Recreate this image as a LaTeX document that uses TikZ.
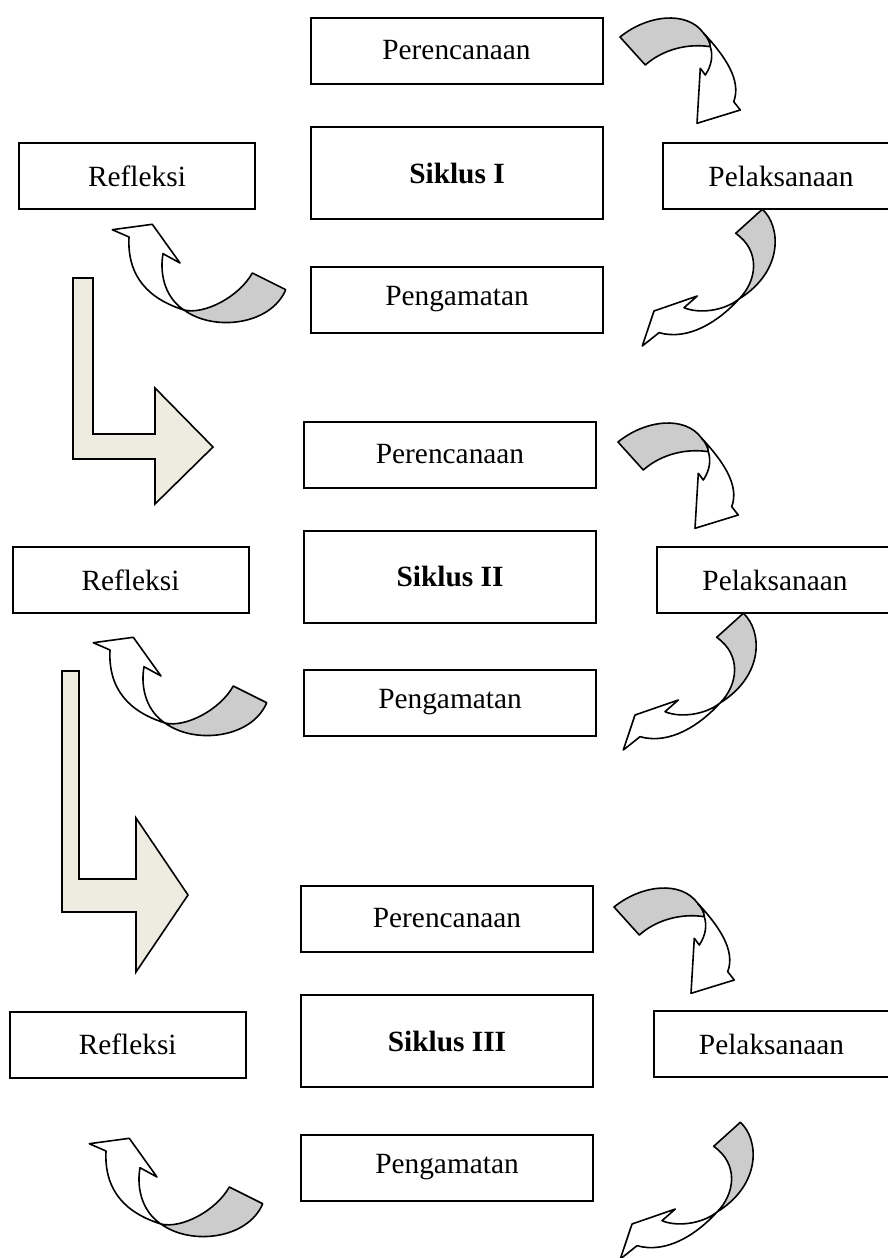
\documentclass[tikz,border=0pt]{standalone}
\usepackage{fontspec}
\setmainfont{Liberation Serif}
\definecolor{ribbon}{HTML}{CCCCCC}
\definecolor{bend}{HTML}{EEECE1}
\tikzset{
  box/.style={draw, line width=2pt, inner sep=0pt, minimum width=292pt,
    minimum height=66pt, font=\fontsize{29.35}{35}\selectfont},
  cyclebox/.style={box, minimum height=92pt, font=\fontsize{29.35}{35}\selectfont\bfseries},
  sidebox/.style={box, minimum width=236pt},
  back/.style={draw, line width=1.6pt, fill=ribbon, line join=round},
  front/.style={draw, line width=1.6pt, fill=white, line join=round},
  turn/.style={draw, line width=1.6pt, fill=bend},
  % Perencanaan -> Pelaksanaan
  pics/toact/.style={code={
    \draw[back] (-2,2) .. controls (25,-20) and (65,-25) .. (81.7,-1.7)
      .. controls (86,3) and (88,7) .. (88.3,11.7)
      .. controls (65,8) and (40,15) .. (23.3,30) -- cycle;
    \draw[front] (81.7,-1.7) .. controls (102,20) and (120,45) .. (111.7,66.7)
      -- (118.3,75) -- (75,88.3) -- (78.3,33.3) -- (83.3,40)
      .. controls (90,30) and (91,20) .. (88.3,11.7)
      .. controls (88,7) and (86,3) .. (81.7,-1.7) -- cycle;
  }},
  % Pelaksanaan -> Pengamatan
  pics/toobs/.style={code={
    \draw[back] (-3.3,27.3) -- (23.3,3.3)
      .. controls (42,20) and (45,65) .. (0,93)
      .. controls (18,75) and (22,45) .. (-3.3,27.3) -- cycle;
    \draw[front] (0,93) .. controls (-20,115) and (-50,135) .. (-80,126.7)
      -- (-96.7,140) -- (-85,105) -- (-41.7,90) -- (-55,101.7)
      .. controls (-40,108) and (-15,105) .. (0,93) -- cycle;
  }},
  % Pengamatan -> Refleksi
  pics/torefl/.style={code={
    \draw[back] (5,43) .. controls (25,48) and (60,30) .. (73.3,6)
      -- (106.7,22.7) .. controls (92,58) and (35,65) .. (5,43) -- cycle;
    \draw[front] (5,43) .. controls (-30,32) and (-52,10) .. (-50,-30)
      -- (-66.7,-37.3) -- (-26.7,-42.7) -- (1,-4) -- (-16,-13.3)
      .. controls (-20,10) and (-12,32) .. (5,43) -- cycle;
  }}
}
\begin{document}
\begin{tikzpicture}[x=1pt,y=-1pt]
  \useasboundingbox (0,0) rectangle (888,1258);
  \clip (0,0) rectangle (888,1258);

  % Siklus I
  \node[box] (plan1) at (456.5,50.5) {Perencanaan};
  \node[cyclebox] (cyc1) at (457,173) {Siklus I};
  \node[box] (obs1) at (457,299.5) {Pengamatan};
  \node[sidebox] (refl1) at (137,176) {Refleksi};
  \node[sidebox] (act1) at (781,176) {Pelaksanaan};
  \pic at (622,35) {toact};
  \pic at (739,206) {toobs};
  \pic at (179,267) {torefl};

  \draw[turn] (73,278) -- (93,278) -- (93,434) -- (155,434) -- (155,388)
    -- (213,447) -- (155,504) -- (155,459) -- (73,459) -- cycle;

  % Siklus II
  \node[box] (plan2) at (450,454.5) {Perencanaan};
  \node[cyclebox] (cyc2) at (450,576.5) {Siklus II};
  \node[box] (obs2) at (450,702.5) {Pengamatan};
  \node[sidebox] (refl2) at (130.5,580) {Refleksi};
  \node[sidebox] (act2) at (775,580) {Pelaksanaan};
  \pic at (620,440) {toact};
  \pic at (720,610) {toobs};
  \pic at (160,680) {torefl};

  \draw[turn] (62,671) -- (79,671) -- (79,879) -- (136,879) -- (136,818)
    -- (188,895) -- (136,972) -- (136,912) -- (62,912) -- cycle;

  % Siklus III
  \node[box] (plan3) at (447,918.5) {Perencanaan};
  \node[cyclebox] (cyc3) at (447,1041) {Siklus III};
  \node[box] (obs3) at (447,1167.5) {Pengamatan};
  \node[sidebox] (refl3) at (127.7,1044.5) {Refleksi};
  \node[sidebox] (act3) at (771.5,1044) {Pelaksanaan};
  \pic at (616,905) {toact};
  \pic at (717,1119) {toobs};
  \pic at (156,1181) {torefl};
\end{tikzpicture}
\end{document}
